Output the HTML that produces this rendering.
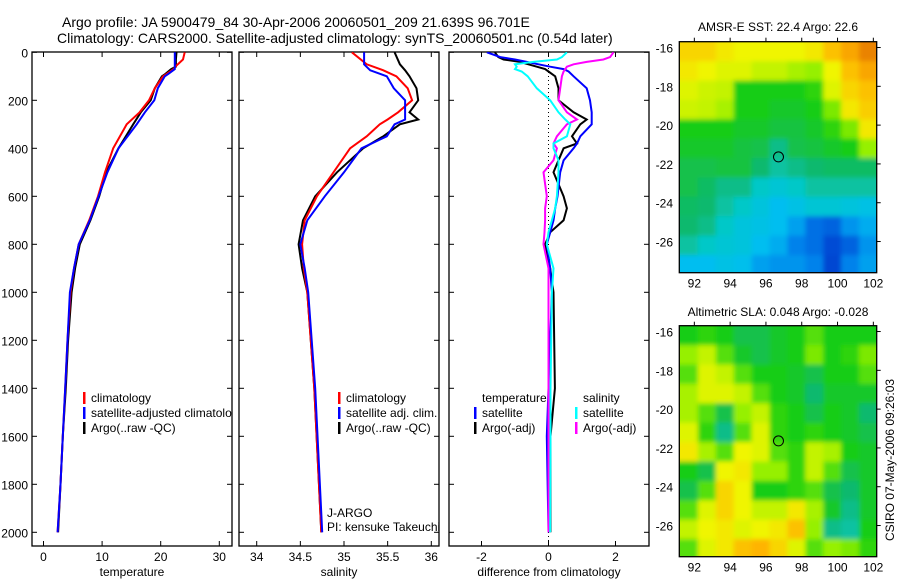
<!DOCTYPE html>
<html><head><meta charset="utf-8"><style>
body{margin:0;background:#fff;}
svg text{font-family:"Liberation Sans",sans-serif;fill:#000;}
</style></head><body>
<svg id="chart" width="900" height="580" viewBox="0 0 900 580" xmlns="http://www.w3.org/2000/svg">
<defs>
<clipPath id="c1"><rect x="32" y="52" width="200" height="494"/></clipPath>
<clipPath id="c2"><rect x="239" y="52" width="200" height="494"/></clipPath>
<clipPath id="c3"><rect x="449" y="52" width="200" height="494"/></clipPath>
<clipPath id="cm1"><rect x="679.3" y="41.7" width="197.4" height="231"/></clipPath>
<clipPath id="cm2"><rect x="679.3" y="325.7" width="197.4" height="231"/></clipPath>
<filter id="blur" x="-5%" y="-5%" width="110%" height="110%"><feGaussianBlur stdDeviation="2.5"/></filter>
</defs>
<text x="62" y="27" font-size="14">Argo profile: JA 5900479_84 30-Apr-2006 20060501_209 21.639S 96.701E</text>
<text x="57" y="43" font-size="14">Climatology: CARS2000. Satellite-adjusted climatology: synTS_20060501.nc (0.54d later)</text>
<text x="778" y="31" font-size="12" text-anchor="middle">AMSR-E SST: 22.4 Argo: 22.6</text>
<text x="778" y="316" font-size="12" text-anchor="middle">Altimetric SLA: 0.048 Argo: -0.028</text>
<text x="0" y="0" font-size="12" text-anchor="middle" transform="translate(894,460) rotate(-90)">CSIRO 07-May-2006 09:26:03</text>
<g id="g"></g>
</svg>
<script>
// ---- depth-profile data ----
const tDepth = [0,30,60,70,90,100,150,200,250,300,400,500,600,700,800,900,1000,1200,1400,1600,1800,2000];
const tClim  = [24.1,23.8,22.5,22.2,21.0,20.4,19.0,18.0,16.4,14.2,11.9,10.5,9.3,7.8,6.0,5.2,4.6,4.1,3.7,3.3,2.9,2.4];
const tSat   = [22.4,22.4,22.4,22.4,21.3,20.7,19.5,18.9,17.3,15.9,12.8,10.9,9.4,7.9,6.0,5.2,4.5,4.1,3.7,3.3,2.9,2.4];
const tArgo  = [22.7,22.6,22.6,21.8,20.8,20.2,19.0,18.3,16.6,15.3,12.8,10.7,9.5,8.0,6.2,5.4,4.8,4.2,3.8,3.3,2.9,2.5];
const sDepth = [0,50,75,100,150,200,250,280,300,350,400,500,600,700,800,900,1000,1400,2000];
const sClim  = [35.09,35.26,35.45,35.60,35.73,35.78,35.62,35.50,35.41,35.26,35.07,34.88,34.69,34.55,34.52,34.54,34.58,34.66,34.74];
const sSat   = [35.23,35.23,35.30,35.49,35.57,35.70,35.70,35.70,35.58,35.49,35.20,35.00,34.78,34.58,34.50,34.55,34.59,34.67,34.75];
const sArgo  = [35.58,35.64,35.70,35.75,35.83,35.85,35.75,35.85,35.64,35.45,35.22,34.92,34.67,34.53,34.48,34.52,34.58,34.66,34.74];
const dDepth = [0,20,30,40,50,60,70,80,100,150,200,250,280,300,350,380,400,450,500,600,650,700,750,800,900,1000,1400,1600,2000];
const dTempArgo = [-1.6,-1.5,-1.34,-0.85,-0.6,-0.35,-0.1,0,0.2,0.3,0.3,0.75,1.14,0.95,0.7,0.85,0.45,0.3,0.15,0.45,0.55,0.45,0.05,-0.1,0.05,0.15,0.19,0.06,0.06];
const dTempSat  = [-1.84,-1.44,-1.0,-0.65,-0.3,0.05,0.45,0.6,0.75,1.14,1.24,1.29,1.29,1.29,0.95,0.85,0.75,0.45,0.35,0.27,0.2,0.15,0.05,-0.05,0.05,0.1,0,-0.05,0];
const dSalSat   = [0.55,0.4,0.25,-0.45,-1.0,-0.95,-1.0,-0.8,-0.62,-0.35,0.05,0.3,0.5,0.65,0.55,0.15,0.15,0.3,0.3,0.25,0.2,0.1,0.0,-0.05,0.15,0.1,0.06,0.06,0.05];
const dSalArgo  = [1.94,1.84,1.64,1.14,0.75,0.55,0.5,0.45,0.4,0.35,0.3,0.55,0.85,0.55,0.25,0.15,0.25,0.15,-0.15,-0.05,-0.1,-0.1,-0.12,-0.15,0,0,0,0,0];
const depthTicks = [0,200,400,600,800,1000,1200,1400,1600,1800,2000];
const tempTicks = [0,10,20,30];
const salTicks = [34,34.5,35,35.5,36];
const diffTicks = [-2,0,2];
// ---- map data (normalised colour values, rows north->south, cols west->east) ----
const mapLons = [91.7,92.7,93.7,94.7,95.7,96.7,97.7,98.7,99.7,100.7,101.7];
const mapLats = [-16.2,-17.2,-18.2,-19.2,-20.2,-21.2,-22.2,-23.2,-24.2,-25.2,-26.2,-27.2];
const sstGrid = [
[0.85,0.85,0.82,0.8,0.8,0.8,0.8,0.82,0.88,0.92,0.97],
[0.82,0.8,0.78,0.78,0.75,0.75,0.72,0.7,0.8,0.88,0.92],
[0.78,0.76,0.75,0.6,0.6,0.6,0.6,0.62,0.78,0.85,0.88],
[0.76,0.75,0.72,0.6,0.6,0.58,0.58,0.6,0.68,0.82,0.86],
[0.6,0.6,0.6,0.58,0.58,0.56,0.56,0.58,0.62,0.68,0.82],
[0.58,0.58,0.58,0.56,0.55,0.5,0.55,0.56,0.58,0.6,0.7],
[0.55,0.55,0.56,0.56,0.52,0.48,0.5,0.52,0.53,0.53,0.53],
[0.55,0.53,0.5,0.5,0.45,0.42,0.45,0.48,0.48,0.48,0.48],
[0.53,0.52,0.48,0.45,0.4,0.35,0.38,0.42,0.42,0.4,0.38],
[0.52,0.5,0.45,0.4,0.38,0.35,0.3,0.22,0.2,0.28,0.32],
[0.48,0.45,0.42,0.4,0.35,0.32,0.25,0.22,0.16,0.2,0.28],
[0.35,0.35,0.38,0.36,0.3,0.28,0.28,0.25,0.15,0.25,0.3]];
const slaGrid = [
[0.6,0.62,0.6,0.55,0.55,0.58,0.6,0.65,0.6,0.6,0.6],
[0.7,0.75,0.65,0.58,0.55,0.58,0.6,0.68,0.6,0.62,0.68],
[0.65,0.78,0.75,0.65,0.6,0.6,0.58,0.55,0.6,0.6,0.65],
[0.72,0.78,0.78,0.75,0.65,0.6,0.58,0.52,0.58,0.58,0.58],
[0.72,0.65,0.55,0.7,0.75,0.62,0.6,0.55,0.6,0.58,0.52],
[0.78,0.62,0.5,0.65,0.78,0.62,0.6,0.62,0.6,0.58,0.55],
[0.82,0.72,0.65,0.8,0.78,0.65,0.62,0.75,0.72,0.6,0.58],
[0.6,0.55,0.8,0.82,0.7,0.7,0.62,0.75,0.65,0.55,0.58],
[0.55,0.65,0.85,0.8,0.6,0.6,0.62,0.65,0.55,0.52,0.58],
[0.65,0.78,0.85,0.8,0.75,0.75,0.82,0.72,0.58,0.5,0.58],
[0.75,0.8,0.82,0.78,0.8,0.82,0.88,0.7,0.5,0.48,0.6],
[0.65,0.78,0.82,0.88,0.9,0.85,0.78,0.65,0.7,0.68,0.62]];
const lonTicks = [92,94,96,98,100,102];
const latTicks = [-16,-18,-20,-22,-24,-26];
const floatLon = 96.701, floatLat = -21.639;

const NS='http://www.w3.org/2000/svg';
const G=document.getElementById('g');
function mk(tag,attrs,parent){const e=document.createElementNS(NS,tag);for(const k in attrs)e.setAttribute(k,attrs[k]);(parent||G).appendChild(e);return e;}
const yD = d => 52.3 + 0.24*d;
const xT = v => 43.5 + 5.86*v;
const xS = v => 256.7 + 87.3*(v-34);
const xDf = v => 548.5 + 33.5*v;
const panels=[{x:32,clip:'c1',sx:xT,ticks:tempTicks,label:'temperature',name:'temperature'},
{x:239,clip:'c2',sx:xS,ticks:salTicks,label:'salinity',name:'salinity'},
{x:449,clip:'c3',sx:xDf,ticks:diffTicks,label:'difference from climatology',name:'difference'}];
panels.forEach((p,pi)=>{
  const r=mk('rect',{x:p.x,y:52,width:200,height:494,fill:'none',stroke:'#000','stroke-width':1.3});
  
  
  depthTicks.forEach(d=>{
    const t1=mk('line',{x1:p.x,x2:p.x+5,y1:yD(d),y2:yD(d),stroke:'#000'});
    
    
    const t2=mk('line',{x1:p.x+200,x2:p.x+195,y1:yD(d),y2:yD(d),stroke:'#000'});
    
    
    if(pi===0){const tx=mk('text',{x:28,y:yD(d)+5,'font-size':12,'text-anchor':'end'});tx.textContent=d;
      
      }
  });
  p.ticks.forEach(v=>{
    const x=p.sx(v);
    const a=mk('line',{x1:x,x2:x,y1:546,y2:541,stroke:'#000'});
    
    
    const b=mk('line',{x1:x,x2:x,y1:52,y2:57,stroke:'#000'});
    
    
    const tx=mk('text',{x:x,y:561,'font-size':12,'text-anchor':'middle'});tx.textContent=v;
    
    
  });
  const lb=mk('text',{x:p.x+100,y:576,'font-size':12,'text-anchor':'middle'});lb.textContent=p.label;
  
  
});
// zero line in diff panel
const zl=mk('line',{x1:xDf(0),x2:xDf(0),y1:52,y2:546,stroke:'#000','stroke-dasharray':'1,3'});


function line(depths,vals,sx,color,clip,name){
  const pts=depths.map((d,i)=>sx(vals[i]).toFixed(1)+','+yD(d).toFixed(1)).join(' ');
  const e=mk('polyline',{points:pts,fill:'none',stroke:color,'stroke-width':2,'clip-path':'url(#'+clip+')'});
  
  
}
line(tDepth,tArgo,xT,'#000','c1','temp-argo-line');
line(tDepth,tClim,xT,'#f00','c1','temp-climatology-line');
line(tDepth,tSat,xT,'#00f','c1','temp-satellite-line');
line(sDepth,sArgo,xS,'#000','c2','sal-argo-line');
line(sDepth,sClim,xS,'#f00','c2','sal-climatology-line');
line(sDepth,sSat,xS,'#00f','c2','sal-satellite-line');
line(dDepth,dTempArgo,xDf,'#000','c3','diff-temp-argo-line');
line(dDepth,dTempSat,xDf,'#00f','c3','diff-temp-satellite-line');
line(dDepth,dSalArgo,xDf,'#f0f','c3','diff-sal-argo-line');
line(dDepth,dSalSat,xDf,'#0ff','c3','diff-sal-satellite-line');
// legends
function leg(x,y,color,text,clip,name){
  if(color){const b=mk('rect',{x:x,y:y-10,width:2.5,height:12,fill:color});
    
    }
  const t=mk('text',{x:x+8,y:y,'font-size':12,'clip-path':'url(#'+clip+')'});t.textContent=text;
  
  
}
leg(83,402,'#f00','climatology','c1','legend-climatology');
leg(83,417,'#00f','satellite-adjusted climatology','c1','legend-satellite-adjusted');
leg(83,432,'#000','Argo(..raw -QC)','c1','legend-argo-raw');
leg(338,402,'#f00','climatology','c2','legend-sal-climatology');
leg(338,417,'#00f','satellite adj. clim.','c2','legend-sal-satellite');
leg(338,432,'#000','Argo(..raw -QC)','c2','legend-sal-argo');
leg(474,402,null,'temperature','c3','legend-temp-header');
leg(474,417,'#00f','satellite','c3','legend-diff-temp-satellite');
leg(474,432,'#000','Argo(-adj)','c3','legend-diff-temp-argo');
leg(575,402,null,'salinity','c3','legend-sal-header');
leg(575,417,'#0ff','satellite','c3','legend-diff-sal-satellite');
leg(575,432,'#f0f','Argo(-adj)','c3','legend-diff-sal-argo');
const j1=mk('text',{x:327,y:517,'font-size':12});j1.textContent='J-ARGO';


const j2=mk('text',{x:327,y:531,'font-size':12,'clip-path':'url(#c2)'});j2.textContent='PI: kensuke Takeuchi';


// maps
const stops=[[0,[0,40,170]],[0.15,[0,70,210]],[0.25,[0,130,235]],[0.35,[0,190,240]],[0.45,[0,200,200]],[0.52,[16,185,110]],[0.6,[20,205,20]],[0.7,[150,240,0]],[0.8,[240,245,0]],[0.9,[255,180,0]],[1,[225,110,0]]];
function cmap(v){for(let i=1;i<stops.length;i++){if(v<=stops[i][0]){const a=stops[i-1],b=stops[i],t=(v-a[0])/(b[0]-a[0]);const c=a[1].map((q,k)=>Math.round(q+(b[1][k]-q)*t));return 'rgb('+c.join(',')+')';}}return 'rgb(225,110,0)';}
function drawMap(top,grid,clip,name){
  const xL=lon=>679.3+17.9*(lon-91.16);
  const yL=lat=>top+19.4*(-15.7-lat);
  const cg=mk('g',{'clip-path':'url(#'+clip+')'});
  
  
  const bg=mk('g',{filter:'url(#blur)'},cg);
  
  
  grid.forEach((row,i)=>row.forEach((v,j)=>{
    let x0=xL(mapLons[j]-0.5),x1=xL(mapLons[j]+0.5),y0=yL(mapLats[i]+0.5),y1=yL(mapLats[i]-0.5);
    if(j===0)x0-=10; if(j===row.length-1)x1+=10; if(i===0)y0-=10; if(i===grid.length-1)y1+=10;
    const c=mk('rect',{x:x0,y:y0,width:x1-x0+0.6,height:y1-y0+0.6,fill:cmap(v)},bg);
    
    
  }));
  const fr=mk('rect',{x:679.3,y:top,width:197.4,height:231,fill:'none',stroke:'#000','stroke-width':1.3});
  
  
  lonTicks.forEach(l=>{const x=xL(l);
    const a=mk('line',{x1:x,x2:x,y1:top,y2:top-4,stroke:'#000'});
    
    
    const t=mk('text',{x:x,y:top+246,'font-size':12,'text-anchor':'middle'});t.textContent=l;
    
    });
  latTicks.forEach(l=>{const y=yL(l);
    const a=mk('line',{x1:876.7,x2:880.7,y1:y,y2:y,stroke:'#000'});
    
    
    const t=mk('text',{x:673,y:y+5,'font-size':12,'text-anchor':'end'});t.textContent=l;
    
    });
  const ci=mk('circle',{cx:xL(floatLon),cy:yL(floatLat),r:5,fill:'none',stroke:'#000','stroke-width':1});
  
  
}
drawMap(41.7,sstGrid,'cm1','sst-map');
drawMap(325.7,slaGrid,'cm2','sla-map');
</script>
</body></html>
